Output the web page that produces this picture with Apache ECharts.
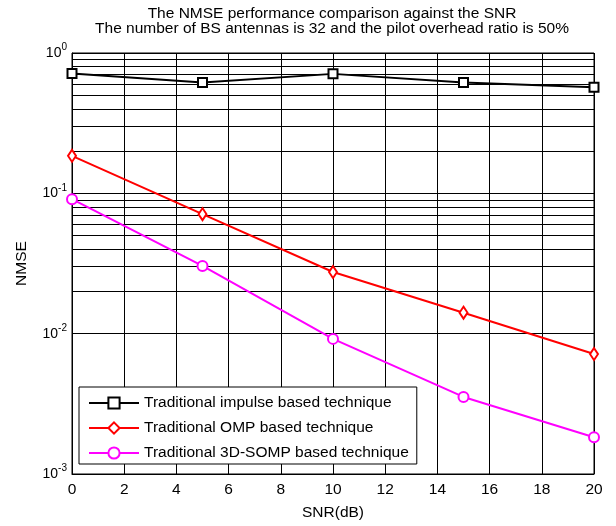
<!DOCTYPE html>
<html>
<head>
<meta charset="utf-8">
<script src="https://cdn.jsdelivr.net/npm/echarts@6/dist/echarts.min.js"></script>
<style>
  html, body { margin: 0; padding: 0; background: #fff; }
  #chart { width: 616px; height: 526px; }
</style>
</head>
<body>
<div id="chart"></div>
<script>
// SNR 点
var snr = [0, 5, 10, 15, 20];
// 各方法的 NMSE
var impulseNmse = [0.714, 0.617, 0.71, 0.617, 0.569];
var ompNmse = [0.185, 0.071, 0.0275, 0.0141, 0.00716];
var somp3dNmse = [0.0908, 0.0304, 0.00918, 0.00354, 0.00183];
var seriesNames = [
    'Traditional impulse based technique',
    'Traditional OMP based technique',
    'Traditional 3D-SOMP based technique'
];

// 对数坐标的次网格线 (2..9 x 10^k)
var minorGrid = [];
for (var k = -3; k < 0; k++) {
    for (var m = 2; m <= 9; m++) {
        minorGrid.push({ yAxis: m * Math.pow(10, k) });
    }
}

function pairs(ys) {
    return snr.map(function (x, i) { return [x, ys[i]]; });
}

var myChart = echarts.init(document.getElementById('chart'));
var font = 'Liberation Sans, Arial, sans-serif';

var option = {
    backgroundColor: '#fff',
    animation: false,
    title: {
        text: 'The NMSE performance comparison against the SNR\nThe number of BS antennas is 32 and the pilot overhead ratio is 50%',
        left: 327,
        top: 1,
        textAlign: 'center',
        textStyle: { fontSize: 15.5, fontWeight: 'normal', color: '#000', fontFamily: font, lineHeight: 15 }
    },
    grid: {
        left: 72, right: 22, top: 53, bottom: 48,
        show: true, borderColor: '#000', borderWidth: 1, backgroundColor: '#fff'
    },
    legend: {
        orient: 'vertical',
        left: 79, top: 387,
        backgroundColor: '#fff',
        borderColor: '#000',
        borderWidth: 1,
        borderRadius: 0,
        padding: [8, 8, 3, 9],
        itemGap: 9,
        itemWidth: 50,
        itemHeight: 14,
        textStyle: { fontSize: 15.5, color: '#000', fontFamily: font },
        data: seriesNames
    },
    xAxis: {
        type: 'value',
        min: 0, max: 20, interval: 2,
        name: 'SNR(dB)',
        nameLocation: 'middle',
        nameGap: 31,
        nameTextStyle: { fontSize: 15.5, color: '#000', fontFamily: font },
        axisLine: { lineStyle: { color: '#000', width: 1 } },
        axisTick: { show: false },
        axisLabel: { fontSize: 15.5, color: '#000', fontFamily: font, margin: 8 },
        splitLine: { show: true, lineStyle: { color: '#000', width: 1 } }
    },
    yAxis: {
        type: 'log',
        logBase: 10,
        min: 0.001, max: 1,
        name: 'NMSE',
        nameLocation: 'middle',
        nameGap: 42,
        nameTextStyle: { fontSize: 15.5, color: '#000', fontFamily: font },
        axisLine: { show: true, lineStyle: { color: '#000', width: 1 } },
        axisTick: { show: false },
        axisLabel: {
            margin: 5,
            formatter: function (v) {
                var e = Math.round(Math.log10(v));
                return '{b|10}{s|' + e + '}';
            },
            rich: {
                b: { fontSize: 14, color: '#000', fontFamily: font },
                s: { fontSize: 10, color: '#000', fontFamily: font, padding: [0, 0, 11, 0] }
            }
        },
        splitLine: { show: true, lineStyle: { color: '#000', width: 1 } }
    },
    series: [
        {
            name: seriesNames[0],
            type: 'line',
            data: pairs(impulseNmse),
            symbol: 'emptyRect',
            symbolSize: 9,
            color: '#000',
            lineStyle: { width: 2, color: '#000' },
            itemStyle: { borderWidth: 2 },
            z: 5,
            markLine: {
                silent: true,
                symbol: 'none',
                label: { show: false },
                lineStyle: { color: '#000', width: 1, type: 'solid' },
                data: minorGrid,
                z: 1
            }
        },
        {
            name: seriesNames[1],
            type: 'line',
            data: pairs(ompNmse),
            symbol: 'emptyDiamond',
            symbolSize: [8, 12],
            color: '#ff0000',
            lineStyle: { width: 2, color: '#ff0000' },
            itemStyle: { borderWidth: 2 },
            z: 5
        },
        {
            name: seriesNames[2],
            type: 'line',
            data: pairs(somp3dNmse),
            symbol: 'emptyCircle',
            symbolSize: 10,
            color: '#ff00ff',
            lineStyle: { width: 2, color: '#ff00ff' },
            itemStyle: { borderWidth: 2 },
            z: 5
        }
    ]
};
myChart.setOption(option);
</script>
</body>
</html>
